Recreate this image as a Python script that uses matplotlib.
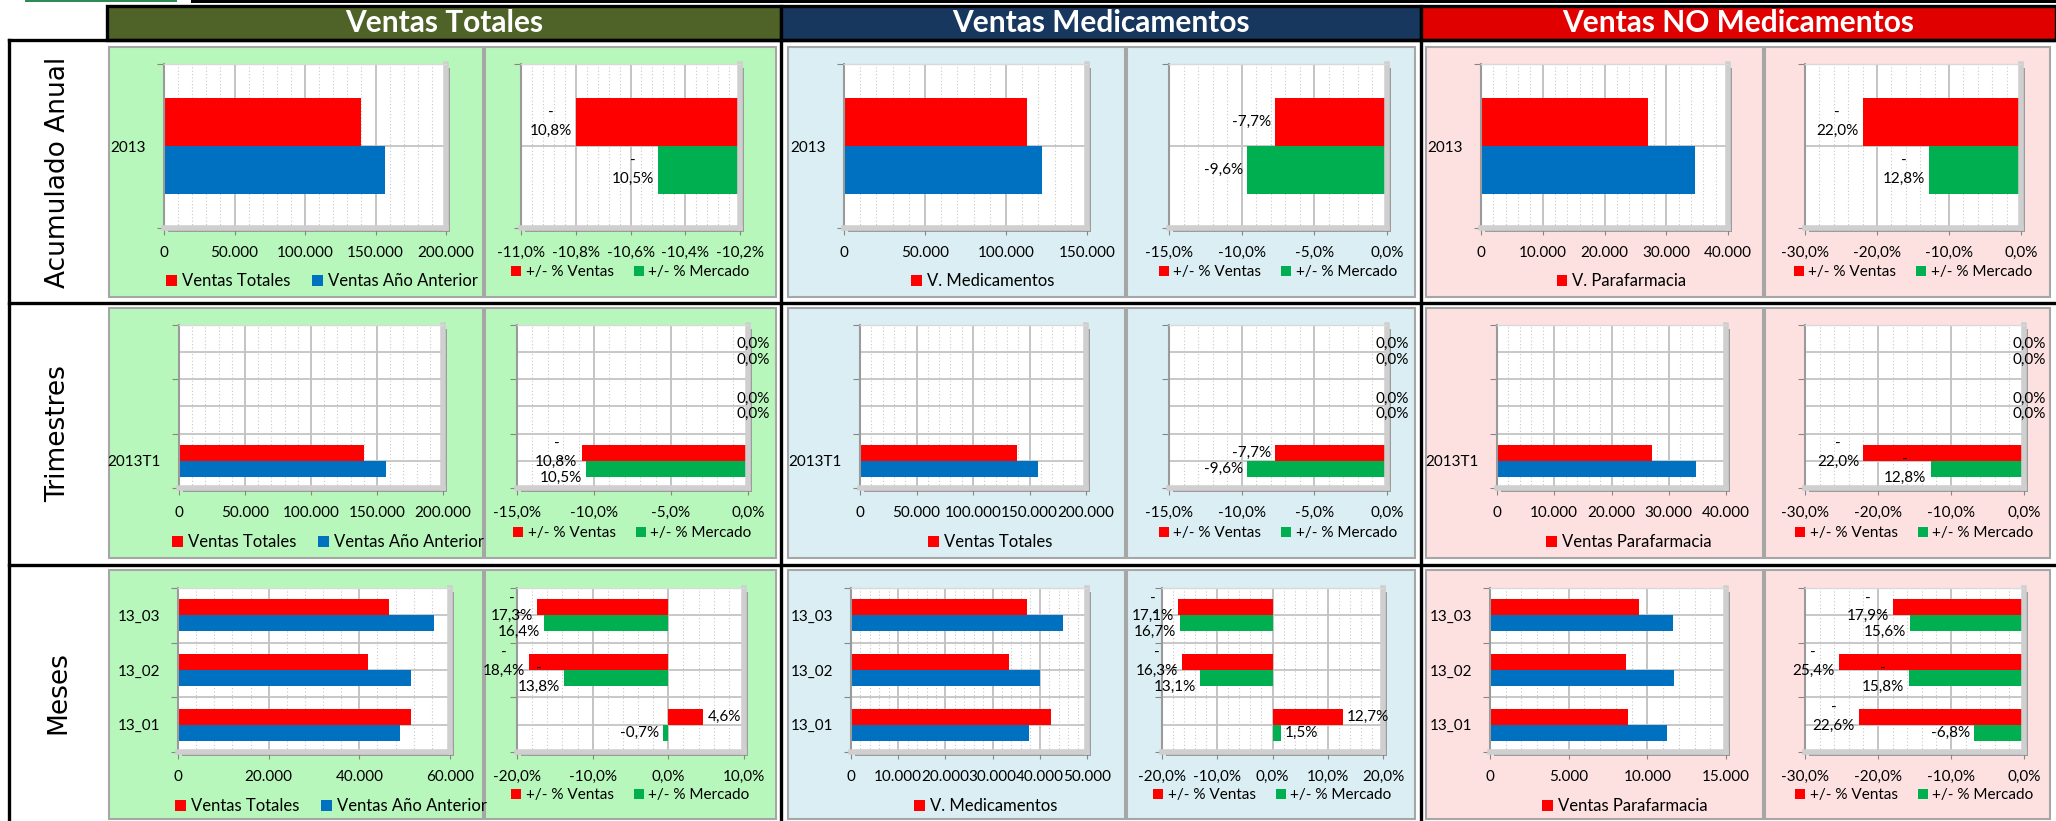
import matplotlib
matplotlib.use("Agg")
import numpy as np
import matplotlib.pyplot as plt
from matplotlib.patches import Rectangle, Patch
from matplotlib.lines import Line2D
from matplotlib.ticker import FixedLocator, FuncFormatter

plt.rcParams['font.family'] = ['Lato', 'DejaVu Sans']

# ---- datos ----
grupos = ["Ventas Totales", "Ventas Medicamentos", "Ventas NO Medicamentos"]
filas = ["Acumulado Anual", "Trimestres", "Meses"]

cat_anual = ["2013"]
cat_trim = ["2013T1", "", ""]
cat_mes = ["13_01", "13_02", "13_03"]

# acumulado anual
vt_anual = [140000]
vt_anual_ant = [157000]
vt_anual_pct_ventas = [-0.108]
vt_anual_pct_mercado = [-0.105]
vm_anual = [112700]
vm_anual_ant = [122100]
vm_anual_pct_ventas = [-0.077]
vm_anual_pct_mercado = [-0.096]
vnm_anual = [27000]
vnm_anual_ant = [34600]
vnm_anual_pct_ventas = [-0.220]
vnm_anual_pct_mercado = [-0.128]

# trimestres
vt_trim = [140000, 0, 0]
vt_trim_ant = [157000, 0, 0]
vt_trim_pct_ventas = [-0.108, 0.0, 0.0]
vt_trim_pct_mercado = [-0.105, 0.0, 0.0]
vm_trim = [139300, 0, 0]
vm_trim_ant = [157200, 0, 0]
vm_trim_pct_ventas = [-0.077, 0.0, 0.0]
vm_trim_pct_mercado = [-0.096, 0.0, 0.0]
vnm_trim = [27000, 0, 0]
vnm_trim_ant = [34700, 0, 0]
vnm_trim_pct_ventas = [-0.220, 0.0, 0.0]
vnm_trim_pct_mercado = [-0.128, 0.0, 0.0]

# meses
vt_mes = [51300, 42000, 46600]
vt_mes_ant = [49000, 51300, 56500]
vt_mes_pct_ventas = [0.046, -0.184, -0.173]
vt_mes_pct_mercado = [-0.007, -0.138, -0.164]
vm_mes = [42400, 33400, 37200]
vm_mes_ant = [37700, 40000, 45000]
vm_mes_pct_ventas = [0.127, -0.163, -0.171]
vm_mes_pct_mercado = [0.015, -0.131, -0.167]
vnm_mes = [8750, 8670, 9490]
vnm_mes_ant = [11270, 11700, 11600]
vnm_mes_pct_ventas = [-0.226, -0.254, -0.179]
vnm_mes_pct_mercado = [-0.068, -0.158, -0.156]

ley_ambas = ["Ventas Totales", "Ventas Año Anterior"]
ley_pct = ["+/- % Ventas", "+/- % Mercado"]

# ---- estilo / maquetacion (pixeles de la imagen) ----
W, H = 2056, 821
ROJO, AZUL, VERDE = "#FF0000", "#0070C0", "#00B050"
col_cabecera = ["#4F6228", "#17375E", "#E00000"]
col_fondo = ["#B8F7BC", "#DAEEF3", "#FDE1E1"]
cab_x = [(107, 781), (781, 1421), (1421, 2056)]
panel_x = [(109, 483), (485, 776), (788, 1125), (1127, 1415), (1426, 1763), (1765, 2050)]
layout_filas = [
    dict(panel=(47, 297), plot=(64, 228), ley_bar=281, ley_pct=272, centro=172,
         px=[(164, 446), (521, 740), (844, 1087), (1169, 1387), (1481, 1728), (1805, 2021)],
         ejes=[(0, 200000, 50000), (-0.11, -0.102, 0.002), (0, 150000, 50000),
               (-0.15, 0, 0.05), (0, 40000, 10000), (-0.30, 0, 0.10)]),
    dict(panel=(308, 558), plot=(325, 488), ley_bar=542, ley_pct=533, centro=434,
         px=[(179, 443), (517, 748), (860, 1086), (1169, 1387), (1497, 1726), (1805, 2024)],
         ejes=[(0, 200000, 50000), (-0.15, 0, 0.05), (0, 200000, 50000),
               (-0.15, 0, 0.05), (0, 40000, 10000), (-0.30, 0, 0.10)]),
    dict(panel=(570, 819), plot=(588, 752), ley_bar=806, ley_pct=795, centro=693,
         px=[(178, 450), (517, 744), (851, 1087), (1162, 1383), (1490, 1726), (1805, 2024)],
         ejes=[(0, 60000, 20000), (-0.20, 0.10, 0.10), (0, 50000, 10000),
               (-0.20, 0.20, 0.10), (0, 15000, 5000), (-0.30, 0, 0.10)]),
]

datos = [
    (cat_anual, [
        ([vt_anual, vt_anual_ant], ley_ambas, [vt_anual_pct_ventas, vt_anual_pct_mercado]),
        ([vm_anual, vm_anual_ant], ["V. Medicamentos"], [vm_anual_pct_ventas, vm_anual_pct_mercado]),
        ([vnm_anual, vnm_anual_ant], ["V. Parafarmacia"], [vnm_anual_pct_ventas, vnm_anual_pct_mercado]),
    ]),
    (cat_trim, [
        ([vt_trim, vt_trim_ant], ley_ambas, [vt_trim_pct_ventas, vt_trim_pct_mercado]),
        ([vm_trim, vm_trim_ant], ["Ventas Totales"], [vm_trim_pct_ventas, vm_trim_pct_mercado]),
        ([vnm_trim, vnm_trim_ant], ["Ventas Parafarmacia"], [vnm_trim_pct_ventas, vnm_trim_pct_mercado]),
    ]),
    (cat_mes, [
        ([vt_mes, vt_mes_ant], ley_ambas, [vt_mes_pct_ventas, vt_mes_pct_mercado]),
        ([vm_mes, vm_mes_ant], ["V. Medicamentos"], [vm_mes_pct_ventas, vm_mes_pct_mercado]),
        ([vnm_mes, vnm_mes_ant], ["Ventas Parafarmacia"], [vnm_mes_pct_ventas, vnm_mes_pct_mercado]),
    ]),
]

FS = 11
ALTO = 0.29

fig = plt.figure(figsize=(W / 100, H / 100), dpi=100)
fig.patch.set_facecolor("white")


def fx(x):
    return x / W


def fy(y):
    return 1 - y / H


def rect(x0, y0, x1, y1, **kw):
    r = Rectangle((fx(x0), fy(y1)), (x1 - x0) / W, (y1 - y0) / H,
                  transform=fig.transFigure, **kw)
    fig.add_artist(r)


def linea(xs, ys, lw=2.4):
    fig.add_artist(Line2D([fx(x) for x in xs], [fy(y) for y in ys],
                          transform=fig.transFigure, color="black", lw=lw, zorder=20))


def miles(v, pos=None):
    return "{:,}".format(int(round(v))).replace(",", ".")


def pct(v, pos=None):
    s = "{:.1f}".format(v * 100).replace(".", ",")
    if s == "-0,0":
        s = "0,0"
    return s + "%"


def etiqueta(v):
    s = pct(v)
    if v <= -0.1:
        s = "-\n" + s[1:]
    return s


def preparar(ax, cats, eje, fmt, x0, y0, x1, y1, con_cats=True):
    lo, hi, paso = eje
    nseg = int(round((hi - lo) / paso))
    n = len(cats)
    ax.set_facecolor("white")
    ax.set_xlim(lo, hi)
    ax.set_ylim(-0.5, n - 0.5)
    ax.xaxis.set_major_locator(FixedLocator(np.linspace(lo, hi, nseg + 1)))
    ax.xaxis.set_minor_locator(FixedLocator(np.linspace(lo, hi, nseg * 5 + 1)))
    ax.xaxis.set_major_formatter(FuncFormatter(fmt))
    ax.set_yticks(np.arange(n + 1) - 0.5)
    ax.set_yticklabels([""] * (n + 1))
    ax.set_yticks(np.arange(n), minor=True)
    if con_cats:
        ax.set_yticklabels(cats, minor=True)
    else:
        ax.set_yticklabels([""] * n, minor=True)
    ax.tick_params(axis="x", which="major", length=5, color="#868686", pad=8, labelsize=FS)
    ax.tick_params(axis="x", which="minor", length=0)
    ax.tick_params(axis="y", which="major", length=5, color="#868686")
    ax.tick_params(axis="y", which="minor", length=0, pad=13, labelsize=FS)
    ax.grid(True, axis="x", which="major", color="#BFBFBF", lw=1.3)
    ax.grid(True, axis="x", which="minor", color="#C8C8C8", lw=0.8, ls=(0, (1, 2)))
    ax.grid(True, axis="y", which="both", color="#C4C4C4", lw=1.3)
    ax.set_axisbelow(True)
    ax.spines["left"].set_color("#9A9A9A")
    ax.spines["left"].set_linewidth(1.5)
    ax.spines["top"].set_color("#D9D9D9")
    ax.spines["top"].set_linewidth(1)
    for s in ("right", "bottom"):
        ax.spines[s].set_color("#CFCFCF")
        ax.spines[s].set_linewidth(4)
    # sombra de la zona de trazado
    rect(x1 + 1, y0 + 4, x1 + 4, y1 + 4, color="#9C9C9C", zorder=-5, lw=0)
    rect(x0 + 4, y1 + 1, x1 + 4, y1 + 4, color="#9C9C9C", zorder=-5, lw=0)


def leyenda(colores, textos, xc, yc, fs):
    handles = [Patch(facecolor=c, edgecolor="none") for c in colores]
    fig.legend(handles, textos, loc="center", bbox_to_anchor=(fx(xc), fy(yc)),
               ncol=len(textos), frameon=False, fontsize=fs, handlelength=0.65,
               handleheight=0.65, handletextpad=0.3, columnspacing=1.3,
               borderpad=0, borderaxespad=0)


# ---- fondo general, cabeceras y marcos ----
rect(25, 0, 177, 2.5, color="#2E8B57", zorder=-10, lw=0)
rect(191, 0, 2056, 3, color="black", zorder=-10, lw=0)
for g, (x0, x1) in enumerate(cab_x):
    rect(x0, 6, x1, 40, facecolor=col_cabecera[g], edgecolor="black", lw=2.4, zorder=-10)
    fig.text(fx((x0 + x1) / 2), fy(23), grupos[g], color="white", fontsize=21.5,
             fontweight="bold", ha="center", va="center")

linea([9, 9], [40, 821])
linea([9, 2056], [40, 40])
linea([9, 2056], [303, 303])
linea([9, 2056], [565, 565])
linea([781, 781], [40, 821])
linea([1421, 1421], [40, 821])

for i, lay in enumerate(layout_filas):
    fig.text(fx(58), fy(lay["centro"]), filas[i], rotation=90, ha="center", va="center",
             fontsize=19, family="DejaVu Sans")
    cats, grupos_datos = datos[i]
    py0, py1 = lay["panel"]
    ty0, ty1 = lay["plot"]
    yy = np.arange(len(cats))
    for g, (barras, ley_bar, pcts) in enumerate(grupos_datos):
        for k in range(2):
            x0, x1 = panel_x[2 * g + k]
            rect(x0, py0, x1, py1, facecolor=col_fondo[g], edgecolor="#A6A6A6", lw=1.5, zorder=-10)

        # grafico de ventas
        x0, x1 = lay["px"][2 * g]
        ax = fig.add_axes([fx(x0), fy(ty1), (x1 - x0) / W, (ty1 - ty0) / H])
        preparar(ax, cats, lay["ejes"][2 * g], miles, x0, ty0, x1, ty1)
        ax.barh(yy + ALTO / 2, barras[0], height=ALTO, color=ROJO, lw=0)
        ax.barh(yy - ALTO / 2, barras[1], height=ALTO, color=AZUL, lw=0)
        leyenda([ROJO, AZUL][:len(ley_bar)], ley_bar, (x0 + x1) / 2 + 17, lay["ley_bar"], 12)

        # grafico de variaciones
        x0, x1 = lay["px"][2 * g + 1]
        ax = fig.add_axes([fx(x0), fy(ty1), (x1 - x0) / W, (ty1 - ty0) / H])
        preparar(ax, cats, lay["ejes"][2 * g + 1], pct, x0, ty0, x1, ty1, con_cats=False)
        for serie, color, off in ((pcts[0], ROJO, ALTO / 2), (pcts[1], VERDE, -ALTO / 2)):
            ax.barh(yy + off, serie, height=ALTO, color=color, lw=0)
            for j, v in enumerate(serie):
                if v < 0:
                    dx, ha = -3, "right"
                elif v == 0:
                    dx, ha = -8, "left"
                else:
                    dx, ha = 3, "left"
                ax.annotate(etiqueta(v), (v, yy[j] + off), xytext=(dx, 0),
                            textcoords="offset points", ha=ha, va="center",
                            multialignment="center", fontsize=FS, linespacing=1.35,
                            annotation_clip=False)
        leyenda([ROJO, VERDE], ley_pct, (x0 + x1) / 2, lay["ley_pct"], FS)

fig.savefig("out.png", dpi=100)
